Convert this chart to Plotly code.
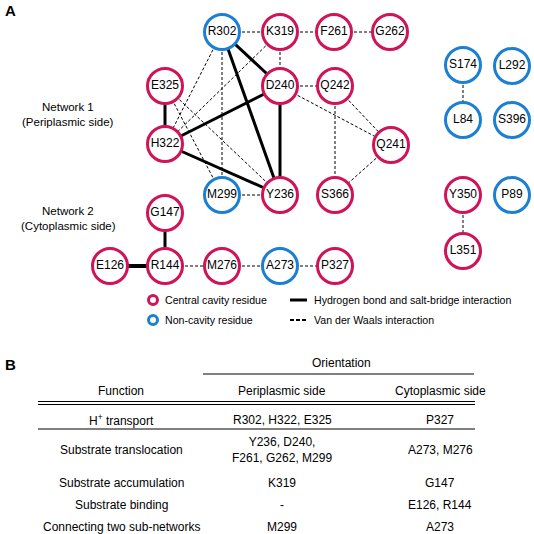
import plotly.graph_objects as go

# ---------------- data ----------------
residues = ["R302", "K319", "F261", "G262", "E325", "D240", "Q242", "H322", "Q241",
            "M299", "Y236", "S366", "G147", "E126", "R144", "M276", "A273", "P327",
            "S174", "L292", "L84", "S396", "Y350", "P89", "L351"]
residue_type = ["non", "central", "central", "central", "central", "central", "central", "central", "central",
                "non", "central", "central", "central", "central", "central", "central", "non", "central",
                "non", "non", "non", "non", "central", "non", "central"]
hbond_edges = [("E325", "H322"), ("R302", "D240"), ("R302", "Y236"), ("H322", "D240"),
               ("H322", "Y236"), ("D240", "Y236"), ("G147", "R144"), ("E126", "R144")]
vdw_edges = [("R302", "K319"), ("K319", "F261"), ("F261", "G262"), ("K319", "D240"),
             ("D240", "Q242"), ("M299", "Y236"), ("R302", "M299"), ("R302", "H322"),
             ("K319", "H322"), ("E325", "M299"), ("E325", "Y236"), ("D240", "Q241"),
             ("Q242", "Q241"), ("Q242", "S366"), ("Q241", "S366"), ("S174", "L84"),
             ("Y350", "L351"), ("R144", "M276"), ("M276", "A273"), ("A273", "P327")]

table_header = ["Function", "Periplasmic side", "Cytoplasmic side"]
table_functions = ["H<sup>+</sup> transport", "Substrate translocation", "Substrate accumulation",
                   "Substrate binding", "Connecting two sub-networks"]
table_periplasmic = ["R302, H322, E325", "Y236, D240,<br>F261, G262, M299", "K319", "-", "M299"]
table_cytoplasmic = ["P327", "A273, M276", "G147", "E126, R144", "A273"]

# ---------------- layout (pixel positions of the drawing) ----------------
node_pos = {
    "R302": (222, 32), "K319": (280, 32), "F261": (334, 32), "G262": (390, 32),
    "E325": (165, 86), "D240": (280, 86), "Q242": (335, 86),
    "H322": (165, 144), "Q241": (391, 145),
    "M299": (222, 195), "Y236": (280, 195), "S366": (335, 195),
    "G147": (165, 213),
    "E126": (110, 266), "R144": (165, 266), "M276": (222, 266), "A273": (280, 266), "P327": (335, 266),
    "S174": (463, 65), "L292": (512, 66), "L84": (463, 120), "S396": (512, 120),
    "Y350": (463, 195), "P89": (512, 195), "L351": (463, 251),
}
col_x = [121, 282, 440]
row_y = [420, 450, 483, 505, 527]

CRIMSON = "#cf1458"
BLUE = "#1c7fd3"
FONT = "Liberation Sans, Arial, sans-serif"
color_of = {"central": CRIMSON, "non": BLUE}

fig = go.Figure()


def edge_xy(edges):
    xs, ys = [], []
    for a, b in edges:
        xs += [node_pos[a][0], node_pos[b][0], None]
        ys += [node_pos[a][1], node_pos[b][1], None]
    return xs, ys


xs, ys = edge_xy(vdw_edges)
fig.add_trace(go.Scatter(x=xs, y=ys, mode="lines", hoverinfo="skip",
                         line=dict(color="black", width=1, dash="3px,2px")))
thin_h = [e for e in hbond_edges if e != ("E126", "R144")]
xs, ys = edge_xy(thin_h)
fig.add_trace(go.Scatter(x=xs, y=ys, mode="lines", hoverinfo="skip",
                         line=dict(color="black", width=3)))
xs, ys = edge_xy([("E126", "R144")])
fig.add_trace(go.Scatter(x=xs, y=ys, mode="lines", hoverinfo="skip",
                         line=dict(color="black", width=4)))

fig.add_trace(go.Scatter(
    x=[node_pos[r][0] for r in residues], y=[node_pos[r][1] for r in residues],
    mode="markers+text", text=residues, textposition="middle center",
    textfont=dict(family=FONT, size=12, color="black"),
    marker=dict(size=35, color="white",
                line=dict(width=3, color=[color_of[t] for t in residue_type])),
    hoverinfo="text"))

# legend (drawn)
fig.add_trace(go.Scatter(x=[153, 153], y=[300, 320], mode="markers", hoverinfo="skip",
                         marker=dict(size=9, color="white",
                                     line=dict(width=3, color=[CRIMSON, BLUE]))))
fig.add_trace(go.Scatter(x=[290, 307], y=[300, 300], mode="lines", hoverinfo="skip",
                         line=dict(color="black", width=3)))
fig.add_trace(go.Scatter(x=[290, 307], y=[320, 320], mode="lines", hoverinfo="skip",
                         line=dict(color="black", width=2, dash="4px,2px")))

ann = []


def txt(x, y, s, size=12, xanchor="center", bold=False):
    ann.append(dict(x=x, y=y, text=f"<b>{s}</b>" if bold else s, showarrow=False,
                    xanchor=xanchor, yanchor="middle", xref="x", yref="y",
                    font=dict(family=FONT, size=size, color="black")))


txt(3, 10, "A", size=15, xanchor="left", bold=True)
txt(68, 107, "Network 1", size=11.5)
txt(68, 122, "(Periplasmic side)", size=11.5)
txt(68, 211, "Network 2", size=11.5)
txt(68, 226, "(Cytoplasmic side)", size=11.5)
txt(163, 300, "Central cavity residue", size=10.6, xanchor="left")
txt(163, 320, "Non-cavity residue", size=10.6, xanchor="left")
txt(312, 300, "Hydrogen bond and salt-bridge interaction", size=10.6, xanchor="left")
txt(312, 320, "Van der Waals interaction", size=10.6, xanchor="left")

# table B
txt(3, 364, "B", size=15, xanchor="left", bold=True)
txt(341, 363, "Orientation")
for x, h in zip(col_x, table_header):
    txt(x, 391, h)
for i, y in enumerate(row_y):
    txt(col_x[0], y, table_functions[i])
    txt(col_x[1], y, table_periplasmic[i])
    txt(col_x[2], y, table_cytoplasmic[i])

shapes = [
    dict(type="line", x0=203, x1=474, y0=374, y1=374, line=dict(color="black", width=1)),
    dict(type="line", x0=38, x1=475, y0=401.5, y1=401.5, line=dict(color="black", width=1)),
    dict(type="line", x0=38, x1=475, y0=404.5, y1=404.5, line=dict(color="black", width=1)),
    dict(type="line", x0=38, x1=475, y0=429, y1=429, line=dict(color="black", width=1)),
]
for s in shapes:
    s.update(xref="x", yref="y", layer="below")

fig.update_layout(
    width=534, height=534, margin=dict(l=0, r=0, t=0, b=0),
    paper_bgcolor="white", plot_bgcolor="white", showlegend=False,
    xaxis=dict(range=[0, 534], visible=False, fixedrange=True),
    yaxis=dict(range=[534, 0], visible=False, fixedrange=True),
    annotations=ann, shapes=shapes,
)
fig.write_html("out.html", config={"displayModeBar": False},
               post_script="document.body.style.margin='0';document.body.style.overflow='hidden';")
